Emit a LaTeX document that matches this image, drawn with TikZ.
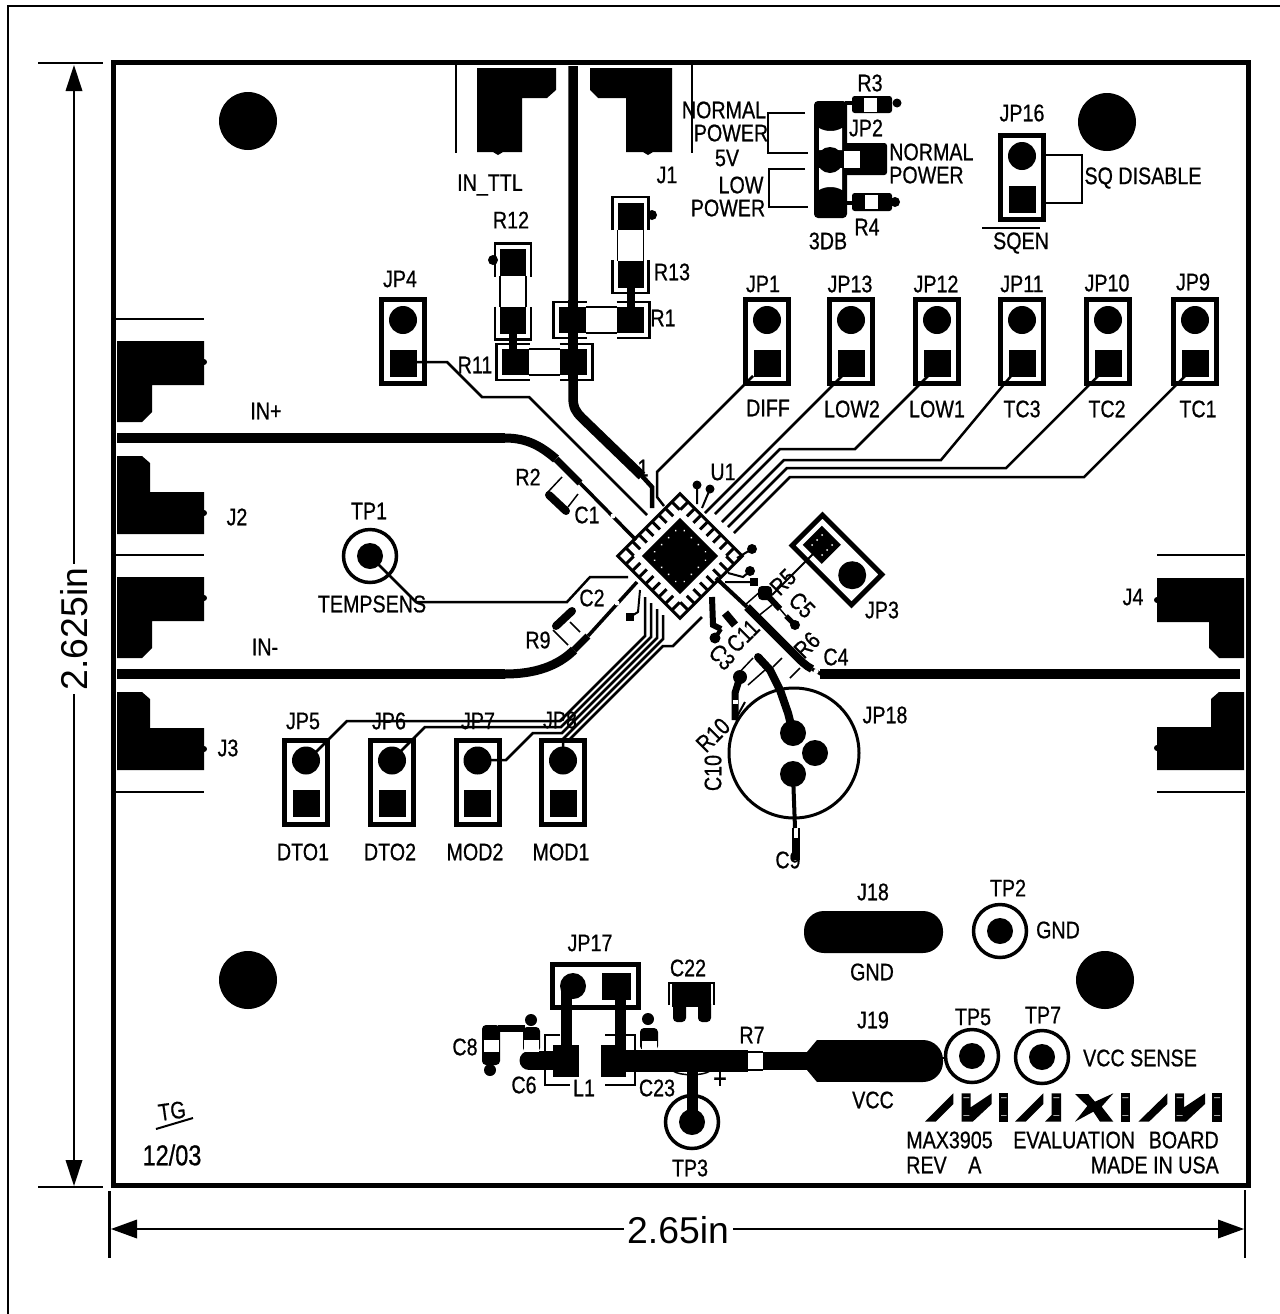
\documentclass[tikz,border=0pt]{standalone}
\usepackage{fontspec}
\setmainfont{Liberation Sans}
\newfontfamily\pcbf[FakeStretch=0.82,FakeBold=0.7]{Liberation Sans}
\newcounter{lc}
\newcommand\lb[4][]{\stepcounter{lc}\node[lbl,#1] (L\arabic{lc}) at (#2,#3) {#4};}
\tikzset{
 lbl/.style={font=\pcbf\fontsize{18}{18}\selectfont,inner sep=0pt,anchor=center,text=black},
 biglbl/.style={font=\pcbf\fontsize{21.5}{21.5}\selectfont},
 dim/.style={font=\fontsize{28}{28}\selectfont,inner sep=0pt,text=black},
 w/.style={line width=#1*0.75pt},
 jumper/.pic={
  \draw[w=5] (-21.5,-42) rectangle (21.5,42);
  \fill (0,-21.5) circle (14);
  \fill (-13.5,8) rectangle (13.5,35);
 },
 resist/.pic={
  \fill (-42.5,-13) rectangle (-15.5,13);
  \fill (15.5,-13) rectangle (42.5,13);
  \draw[w=1.5] (-15.5,-13) -- (15.5,-13) (-15.5,13) -- (15.5,13);
  \draw[w=2.5] (-15,-18) -- (-48,-18) -- (-48,18) -- (-15,18);
  \draw[w=2.5] (15,-18) -- (48,-18) -- (48,18) -- (15,18);
 },
 tpoint/.pic={
  \draw[w=3.5] (0,0) circle (26.5);
  \fill (0,0) circle (13);
 },
}
\begin{document}
\begin{tikzpicture}[x=0.75pt,y=-0.75pt,line join=miter]
\useasboundingbox (0,0) rectangle (1280,1314);
% sheet frame
\draw[w=2] (7.5,1314) -- (7.5,5.5) -- (1280,5.5);
% dimensions
\draw[w=2.5] (38,63) -- (103,63) (38,1187) -- (103,1187);
\draw[w=2.5] (109.5,1191) -- (109.5,1258) (1245,1190) -- (1245,1258);
\draw[w=2] (74,85) -- (74,564) (74,694) -- (74,1165);
\draw[w=2] (132,1229) -- (624,1229) (733,1229) -- (1222,1229);
\fill (74,65) -- (82.5,91) -- (65.5,91) -- cycle;
\fill (74,1186) -- (82.5,1160) -- (65.5,1160) -- cycle;
\fill (111,1229) -- (137,1219.5) -- (137,1238.5) -- cycle;
\fill (1244,1229) -- (1218,1219.5) -- (1218,1238.5) -- cycle;
\node[dim,rotate=90] (dimv) at (74,629) {2.625in};
\node[dim] (dimh) at (678,1230) {2.65in};
% board
\draw[w=5] (113.5,62.5) rectangle (1248,1185);
% holes
\foreach \p in {(248,121),(1107,122),(248,980),(1105,980)} \fill \p circle (29);
% J1
\fill (477,68) -- (556,68) -- (556,90) -- (547,98) -- (522,98) -- (522,152) -- (503,152) -- (498,155) -- (493,152) -- (477,152) -- cycle;
\fill (590,68) -- (672,68) -- (672,152) -- (653,152) -- (648,155) -- (643,152) -- (626,152) -- (626,98) -- (598,98) -- (590,90) -- cycle;
\draw[w=1.5] (456,65) -- (456,153) (692,65) -- (692,153);
% J2 J3 J4
\foreach \o in {0,236}{
 \fill (117,341+\o) -- (204,341+\o) -- (204,385+\o) -- (152,385+\o) -- (152,412+\o) -- (142,422+\o) -- (117,422+\o) -- cycle;
 \fill (204,362+\o) circle (3);
 \fill (117,456+\o) -- (142,456+\o) -- (150,463+\o) -- (150,492+\o) -- (204,492+\o) -- (204,534+\o) -- (117,534+\o) -- cycle;
 \fill (204,513+\o) circle (3);
}
\fill (1244,578) -- (1157,578) -- (1157,622) -- (1209,622) -- (1209,648) -- (1219,658) -- (1244,658) -- cycle;
\fill (1157,600) circle (3);
\fill (1244,692) -- (1219,692) -- (1211,699) -- (1211,727) -- (1157,727) -- (1157,770) -- (1244,770) -- cycle;
\fill (1157,748) circle (3);
\draw[w=1.5] (116,319) -- (204,319) (116,555) -- (204,555) (116,792) -- (204,792);
\draw[w=1.5] (1157,555) -- (1245,555) (1157,792) -- (1245,792);
% differential traces
\draw[w=10.5] (117,438) -- (505,438);
\draw[w=9] (505,438) .. controls (528,438) and (542,447) .. (556,459);
\draw[w=7] (556,459) -- (580,483);
\draw[w=3.5] (580,483) -- (636,540);
\fill[white] (613,516) circle (2.5);
\draw[w=10.5] (117,674) -- (505,674);
\draw[w=9] (505,674) .. controls (535,674) and (558,666) .. (574,650);
\draw[w=7] (574,650) -- (588,636);
\draw[w=3.5] (588,636) -- (637,582);
\fill[white] (617,603) circle (2.5);
\draw[w=10.5] (820,674) -- (1240,674);
\draw[w=8] (747,607) -- (795,655) .. controls (801,661) and (806,666) .. (812,669);
\draw[w=4] (716,578) -- (747,607);
\draw[w=3.5] (812,669) -- (821,674);
\fill[white] (816,671.5) circle (2.5);
% central TTL trace
\draw[w=9.5] (573,66) -- (573,397) .. controls (573,408) and (576,412) .. (582,418) -- (642,476);
\draw[w=4.5] (642,476) -- (652,487) -- (652,508);
% resistors R1 R11 R12 R13
\pic at (601.5,320) {resist};
\pic at (544.5,362) {resist};
\pic[rotate=90] at (513,291.5) {resist};
\pic[rotate=90] at (630.5,245) {resist};
\draw[w=8] (513,333) -- (513,350) (631,286) -- (631,308);
\draw[w=9.5] (573,300) -- (573,380);
\fill (493,260) circle (5) (652,215) circle (5);
% jumpers
\foreach \x in {403,767,851,937,1022,1108,1195} \pic at (\x,341.5) {jumper};
\foreach \x in {306,392,477.5,563} \pic at (\x,782) {jumper};
\pic at (1022,177.5) {jumper};
\pic[rotate=-135] at (837,560) {jumper};
\foreach \p in {(812,545),(822,535),(832,545),(822,555),(817,540),(827,550)} \fill[white] \p circle (1);
% upper right fan-out
\draw[w=2.5] (415,362) -- (447,362) -- (482,397) -- (529,397) -- (647,515);
\draw[w=2.5] (753,376) -- (657,472) -- (657,497) -- (664,506);
\draw[w=2.5] (842,376) -- (705,513);
\draw[w=2.5] (928,376) -- (855,449) -- (780,449) -- (715,514);
\draw[w=2.5] (1011,376) -- (941,460) -- (784,460) -- (722,522);
\draw[w=2.5] (1098,376) -- (1006,468) -- (787,468) -- (728,527);
\draw[w=2.5] (1185,376) -- (1084,477) -- (790,477) -- (734,533);
% lower left fan-out
\draw[w=2.5] (308,760) -- (347,721) -- (560,721) -- (645,636) -- (645,597);
\draw[w=2.5] (392,760) -- (425,727) -- (561,727) -- (651,637) -- (651,603);
\draw[w=2.5] (477,760) -- (506,760) -- (533,733) -- (562,733) -- (657,638) -- (657,609);
\draw[w=2.5] (563,760) -- (563,739) -- (663,639) -- (663,615);
\draw[w=2.5] (568,741) -- (663,646) -- (673,646) -- (702,617);
% TP1
\pic at (370,556) {tpoint};
\draw[w=2.5] (370,556) -- (416,602) -- (567,602) -- (590,577) -- (628,577);
% chip
\begin{scope}[shift={(680,556)},rotate=45]
 \draw[w=3] (-44,-44) rectangle (44,44);
 \fill (-27,-27) rectangle (27,27);
 \foreach \a in {0,90,180,270}
  \foreach \i in {-3.5,-2.5,-1.5,-0.5,0.5,1.5,2.5,3.5}
   {\draw[w=3,rotate=\a] (\i*9.3,-44) -- (\i*9.3,-33);}
 \foreach \a in {0,90,180,270}
  \foreach \i in {-15,-5,5,15}
   {\fill[white,rotate=\a] (\i,-21) circle (1);}
\end{scope}
% small parts near the chip
\draw[w=8,line cap=round] (549,495) -- (566,511);
\draw[w=1.5] (547,493) -- (562,477) (568,507) -- (578,494);
\draw[w=8,line cap=round] (556,626) -- (572,611);
\draw[w=1.5] (553,630) -- (568,645) (570,622) -- (580,632);
% R5 C5
\fill[rounded corners=3] (758,586) rectangle (772,600);
\draw[w=6] (765,593) -- (780,609);
\draw[w=5] (786,616) -- (793,623);
\fill (795,625) circle (5);
\draw[w=1.5] (745,605) -- (762,590) (757,617) -- (772,605);
\draw[w=1.5] (780,609) -- (786,616);
% C11 C3
\draw[w=8] (725,613) -- (735,625);
\draw[w=6] (712,597) -- (713,625) -- (721,629);
\fill (715,638) circle (5.5);
\draw[w=4] (721,629) -- (715,638);
% stubs
\draw[w=2] (697,485) -- (697,504) (710,489) -- (702,508);
\fill (697,485) circle (4.5) (710,489) circle (4.5);
\fill (752,549) circle (5) (750,571) circle (5);
\fill (750,578) rectangle (758,586);
\draw[w=2] (752,549) -- (737,558) (750,571) -- (743,577) -- (728,573) (754,582) -- (725,582);
\fill (626,613) rectangle (634,621);
\draw[w=2] (630,617) -- (638,612) -- (640,590);
\draw[w=2] (822,545) -- (772,595);
% R6 R10 and JP18
\draw[w=1.5] (735,677) -- (753,658) (748,685) -- (765,670);
\draw[w=1.5] (773,667) -- (782,658) (790,678) -- (800,668);
\draw[w=3] (794,753) circle (65);
\fill (793,733) circle (13) (815,753) circle (13) (793,774) circle (13);
\draw[w=8,line cap=round] (758,657) -- (770,670) -- (780,690) -- (788,713) -- (793,733);
\fill (740,677) circle (7);
\draw[w=7] (740,677) -- (735,693) -- (735,720);
\fill[white] (733,700) rectangle (738,704);
\draw[w=2] (735,720) -- (745,702);
\draw[w=4] (793,774) -- (795,828);
\draw[w=8] (796,838) -- (796,860);
\draw[w=1.5] (793,828) -- (793,838) (799,828) -- (799,838);
% upper right block JP2
\fill[rounded corners=3] (814,101) rectangle (847,218);
\fill[white] (819,128) .. controls (825,132) and (836,132) .. (842,128) -- (842,150) -- (819,150) -- cycle;
\fill[white] (819,168) -- (842,168) -- (842,190) .. controls (836,186) and (825,186) .. (819,190) -- cycle;
\fill[rounded corners=2] (843,143) rectangle (887,175);
\fill[white] (843.5,151) rectangle (860,168);
\fill (830,160) circle (13);
\draw[w=4] (845,103) -- (852,103) (845,203) -- (852,203);
\fill[rounded corners=2] (852,96) rectangle (892,113);
\fill[white] (864,97.5) rectangle (877,111.5);
\fill (897,103) circle (4.5);
\fill[rounded corners=2] (852,193) rectangle (892,211);
\fill[white] (865,195) rectangle (878,209);
\fill (895,202) circle (5);
\draw[w=2.5] (805,113) -- (768,113) -- (768,153) -- (808,153);
\draw[w=2.5] (805,169) -- (769,169) -- (769,207) -- (808,207);
% SQ bracket
\draw[w=2.5] (1045,155) -- (1082,155) -- (1082,203) -- (1045,203);
\draw[w=2] (982,228) -- (1040,228);
% J18 J19
\fill[rounded corners=15] (804,911) rectangle (943,953);
\pic at (1000,931) {tpoint};
\fill (807,1052) -- (817,1040) -- (817,1082) -- (807,1070) -- cycle;
\fill (817,1040) rectangle (900,1082);
\fill[rounded corners=15] (860,1040) rectangle (943,1082);
\pic at (972,1056) {tpoint};
\pic at (1042,1057) {tpoint};
\draw[w=2] (941,1058) -- (946,1058);
% supply section
\draw[w=5] (552.5,964.5) rectangle (638.5,1007);
\fill (573,986) circle (13);
\fill (602,973) rectangle (631,1000);
\draw[w=11] (566,990) -- (566,1050) (620,990) -- (620,1050);
\fill (553,1045) rectangle (579,1077);
\fill (601,1045) rectangle (626,1077);
\fill (601,1050) rectangle (748,1072);
\fill (763,1052) rectangle (815,1070);
\draw[w=1.5] (748,1052) -- (763,1052) (748,1070) -- (763,1070);
\draw[w=19,line cap=round] (529,1060.5) -- (556,1060.5);
\draw[w=1.5] (560,1035) -- (545,1035) -- (545,1085) -- (570,1085);
\draw[w=1.5] (605,1035) -- (635,1035) -- (635,1085) -- (605,1085);
\fill[rounded corners=3] (482,1025) rectangle (500,1065);
\fill[white] (483.5,1040) rectangle (498.5,1052);
\fill (490,1070) circle (6);
\draw[w=7] (498,1028) -- (525,1028);
\fill[rounded corners=3] (523,1027) rectangle (540,1052);
\fill[white] (524,1040) rectangle (539,1052);
\fill (531,1020) circle (6);
\fill[rounded corners=3] (640,1028) rectangle (658,1050);
\fill[white] (642,1041) rectangle (657,1050);
\fill (648,1019) circle (6);
% C22
\fill (672,983) rectangle (711,1007);
\fill[rounded corners=3] (673,1000) rectangle (686,1022);
\fill[rounded corners=3] (698,1000) rectangle (711,1022);
\draw[w=1.5] (669,1005) -- (669,983) -- (714,983) -- (714,1005);
% TP3
\pic at (692,1122) {tpoint};
\draw[w=11] (692,1070) -- (692,1122);
\draw[w=1.5] (673,1071) .. controls (680,1076) and (703,1076) .. (710,1071);
% logo
\begin{scope}[shift={(880,1000)},x=0.25pt,y=-0.25pt]
 \fill (135,365) -- (167,365) -- (220,312) -- (220,280) -- cycle;
 \fill (245,280) -- (272,280) -- (272,322) -- (335,280) -- (335,312) -- (278,365) -- (245,365) -- cycle;
 \fill (358,280) rectangle (385,365);
 \fill (405,365) -- (437,365) -- (490,312) -- (490,280) -- cycle;
 \fill (515,280) -- (543,280) -- (543,365) -- (495,365) -- (515,345) -- cycle;
 \fill (585,282) -- (625,282) -- (645,305) -- (700,280) -- (665,320) -- (700,365) -- (660,365) -- (640,335) -- (585,365) -- (622,318) -- cycle;
 \fill (722,280) rectangle (750,365);
 \fill (775,365) -- (807,365) -- (862,312) -- (862,280) -- cycle;
 \fill (885,280) -- (912,280) -- (912,322) -- (975,280) -- (975,312) -- (918,365) -- (885,365) -- cycle;
 \fill (997,280) rectangle (1025,365);
 \fill[white] (250,292) rectangle (268,294) (250,345) rectangle (268,347);
 \fill[white] (363,292) rectangle (380,294) (363,345) rectangle (380,347);
 \fill[white] (520,292) rectangle (538,294) (520,345) rectangle (538,347);
 \fill[white] (727,292) rectangle (745,294) (727,345) rectangle (745,347);
 \fill[white] (890,292) rectangle (908,294) (890,345) rectangle (908,347);
 \fill[white] (1002,292) rectangle (1020,294) (1002,345) rectangle (1020,347);
\end{scope}
% labels
\lb{490}{185}{IN\_TTL}
\lb{667}{175}{J1}
\lb{511}{220}{R12}
\lb{672}{272}{R13}
\lb{663}{318}{R1}
\lb{475}{365}{R11}
\lb{400}{279}{JP4}
\lb{763}{284}{JP1}
\lb{850}{284}{JP13}
\lb{936}{284}{JP12}
\lb{1022}{284}{JP11}
\lb{1107}{283}{JP10}
\lb{1193}{282}{JP9}
\lb{768}{408}{DIFF}
\lb{852}{409}{LOW2}
\lb{937}{409}{LOW1}
\lb{1022}{409}{TC3}
\lb{1107}{409}{TC2}
\lb{1198}{409}{TC1}
\lb{723}{472}{U1}
\lb{643}{468}{1}
\lb{266}{411}{IN+}
\lb{265}{647}{IN-}
\lb{237}{517}{J2}
\lb{228}{748}{J3}
\lb{1133}{597}{J4}
\lb{369}{511}{TP1}
\lb{372}{604}{TEMPSENS}
\lb{528}{477}{R2}
\lb{587}{515}{C1}
\lb{592}{598}{C2}
\lb{538}{640}{R9}
\lb[rotate=45]{783}{582}{R5}
\lb[rotate=-45]{802}{605}{C5}
\lb[rotate=45]{807}{645}{R6}
\lb{836}{657}{C4}
\lb[rotate=-45]{722}{657}{C3}
\lb[rotate=45]{743}{636}{C11}
\lb[rotate=45]{713}{735}{R10}
\lb[rotate=90]{713}{773}{C10}
\lb{882}{610}{JP3}
\lb{885}{715}{JP18}
\lb{788}{860}{C9}
\lb{303}{721}{JP5}
\lb{389}{721}{JP6}
\lb{478}{721}{JP7}
\lb{560}{720}{JP8}
\lb{303}{852}{DTO1}
\lb{390}{852}{DTO2}
\lb{475}{852}{MOD2}
\lb{561}{852}{MOD1}
\lb{724}{110}{NORMAL}
\lb{731}{133}{POWER}
\lb{727}{158}{5V}
\lb{741}{185}{LOW}
\lb{728}{208}{POWER}
\lb{828}{241}{3DB}
\lb{870}{83}{R3}
\lb{867}{227}{R4}
\lb{866}{128}{JP2}
\lb[anchor=west]{889}{152}{NORMAL}
\lb[anchor=west]{889}{175}{POWER}
\lb{1022}{113}{JP16}
\lb{1143}{178}{SQ DISABLE}
\lb{1021}{243}{SQEN}
\lb{873}{892}{J18}
\lb{872}{972}{GND}
\lb{1008}{888}{TP2}
\lb{1058}{930}{GND}
\lb{873}{1020}{J19}
\lb{873}{1100}{VCC}
\lb{973}{1017}{TP5}
\lb{1043}{1015}{TP7}
\lb{1140}{1058}{VCC SENSE}
\lb{590}{943}{JP17}
\lb{688}{968}{C22}
\lb{465}{1047}{C8}
\lb{524}{1085}{C6}
\lb{584}{1088}{L1}
\lb{657}{1088}{C23}
\lb[biglbl]{720}{1080}{+}
\lb{752}{1035}{R7}
\lb{690}{1168}{TP3}
\lb[anchor=west]{906}{1140}{MAX3905}
\lb[anchor=west]{1013}{1140}{EVALUATION}
\lb[anchor=east]{1219}{1140}{BOARD}
\lb[anchor=west]{906}{1165}{REV}
\lb[anchor=west]{968}{1165}{A}
\lb[anchor=east]{1219}{1165}{MADE IN USA}
\lb[rotate=8]{172}{1111}{TG}
\draw[w=2] (156,1129) -- (193,1118);
\lb[biglbl]{172}{1155}{12/03}
\end{tikzpicture}
\end{document}
